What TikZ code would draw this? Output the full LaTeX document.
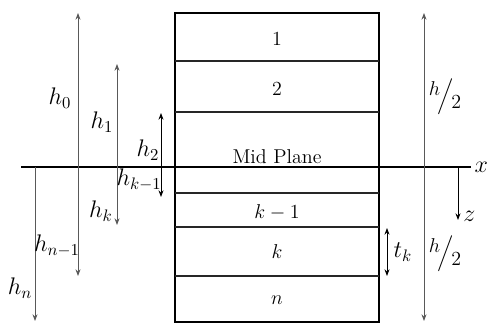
\documentclass[tikz,border=0pt]{standalone}
\usepackage{amsmath,amssymb}
\usepackage{xcolor}
\usepackage{tikz}
\usetikzlibrary{arrows.meta,positioning}
\tikzset{
  caja/.style={draw=black,line width=1.3pt},
  capa/.style={draw=black!85,line width=0.7pt},
  plano/.style={draw=black,line width=0.8pt},
  flecha/.style={<->,>={Stealth[length=4pt,width=3pt]},gray!70!black,line width=0.6pt},
  flechan/.style={<->,>={Stealth[length=4pt,width=3pt]},black,line width=0.6pt},
  etq/.style={inner sep=1pt,font=\Large},
  capaetq/.style={font=\large}
}
\newcommand{\mitad}{{\large\raisebox{0.6ex}{$h$}\kern-1.5pt\raisebox{-0.1ex}{$\Big/$}\kern-1.5pt\raisebox{-0.8ex}{$2$}}}

\begin{document}
\begin{tikzpicture}[x=0.6pt,y=-0.6pt]
\useasboundingbox (0,0) rectangle (489,323);
% laminado
\coordinate (ci) at (175,13); \coordinate (cd) at (379,322);
\draw[caja] (ci) rectangle (cd);
\foreach \y in {61,112,193,227,276}{
  \draw[capa] (175,\y) -- (379,\y);}
\node[capaetq] (l1) at (277,39) {1};
\node[capaetq] (l2) at (277,89) {2};
\node[capaetq] (lmid) at (277,157) {Mid Plane};
\node[capaetq] (lk1) at (277,212) {$k-1$};
\node[capaetq] (lk) at (277,252) {$k$};
\node[capaetq] (ln) at (277,300) {$n$};
% plano medio y ejes
\coordinate (mi) at (21,167); \coordinate (md) at (471,167);
\draw[plano] (mi) -- (md);
\node[etq,right=1pt of md] (ejex) {$x$};
\coordinate (z0) at (458,167); \coordinate (z1) at (458,220);
\draw[flechan,<-] (z1) -- (z0);
\node[etq,right=2pt of z1,yshift=2pt] (ejez) {$z$};
% distancias h
\coordinate (h0a) at (78,13);  \coordinate (h0b) at (78,276);
\coordinate (h1a) at (117,64); \coordinate (h1b) at (117,225);
\coordinate (h2a) at (161,113); \coordinate (h2b) at (161,197);
\coordinate (hna) at (35,167); \coordinate (hnb) at (35,321);
\draw[flecha] (h0a) -- (h0b);
\draw[flecha] (h1a) -- (h1b);
\draw[flechan] (h2a) -- (h2b);
\draw[flecha,-{Stealth[length=4pt,width=3pt]}] (hna) -- (hnb);
\node[etq] (th0) at (60,98) {$h_0$};
\node[etq] (th1) at (102,122) {$h_1$};
\node[etq] (th2) at (148,150) {$h_2$};
\node[etq] (thk1) at (139,180) {$h_{k-1}$};
\node[etq] (thk) at (101,211) {$h_k$};
\node[etq] (thn1) at (57,246) {$h_{n-1}$};
\node[etq] (thn) at (20,288) {$h_n$};
% espesores
\coordinate (ma) at (424,13); \coordinate (mb) at (424,321);
\draw[flecha] (ma) -- (mb);
\node[etq] (tm1) at (445,97) {\mitad};
\node[etq] (tm2) at (445,254) {\mitad};
\coordinate (tka) at (387,228); \coordinate (tkb) at (387,276);
\draw[flechan] (tka) -- (tkb);
\node[etq] (ttk) at (403,252) {$t_k$};
\end{tikzpicture}
\end{document}
